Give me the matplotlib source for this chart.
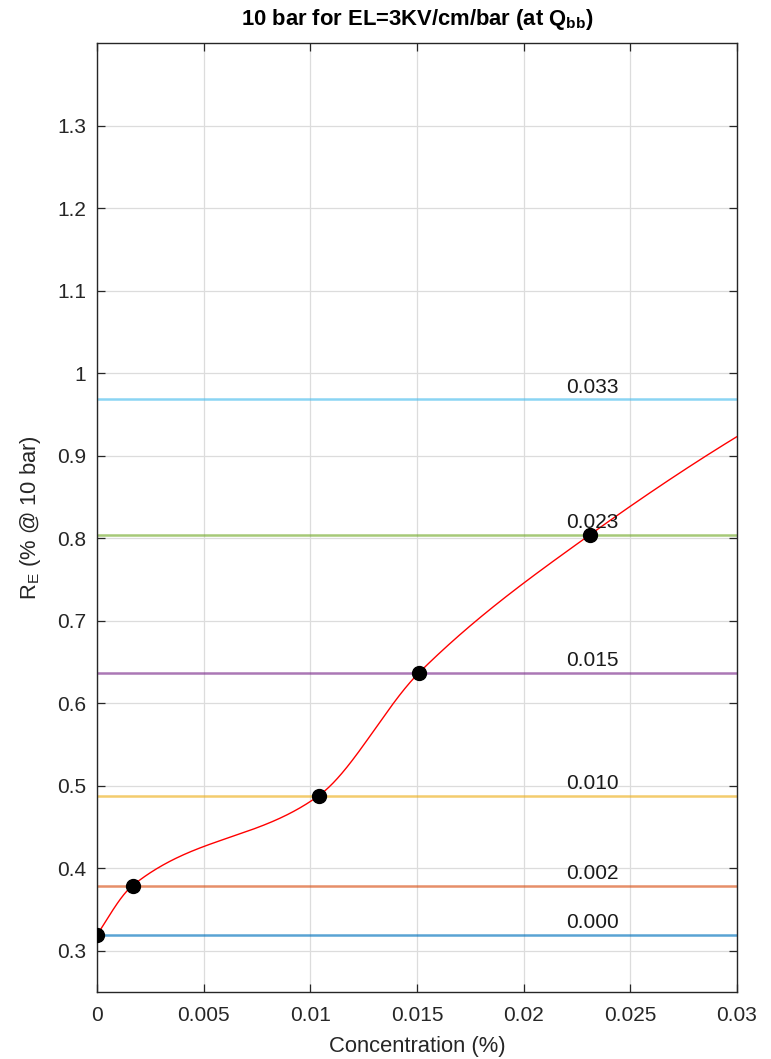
import numpy as np
import matplotlib
matplotlib.use("Agg")
import matplotlib.pyplot as plt

# Measured concentrations (%) and energy resolution R_E (% @ 10 bar)
concentration = [0.0, 0.00167, 0.0104, 0.0151, 0.0231, 0.0330]
resolution = [0.319, 0.379, 0.488, 0.637, 0.804, 0.968]
level_labels = ["0.000", "0.002", "0.010", "0.015", "0.023", "0.033"]
level_colors = ["#0072BD", "#D95319", "#EDB120", "#7E2F8E", "#77AC30", "#4DBEEE"]

x_ticks = [0, 0.005, 0.01, 0.015, 0.02, 0.025, 0.03]
x_tick_labels = ["0", "0.005", "0.01", "0.015", "0.02", "0.025", "0.03"]
y_ticks = [0.3, 0.4, 0.5, 0.6, 0.7, 0.8, 0.9, 1.0, 1.1, 1.2, 1.3]
y_tick_labels = ["0.3", "0.4", "0.5", "0.6", "0.7", "0.8", "0.9", "1", "1.1", "1.2", "1.3"]


def pchip(x, y, xq):
    """Shape-preserving piecewise cubic Hermite interpolation."""
    x = np.asarray(x, float)
    y = np.asarray(y, float)
    xq = np.asarray(xq, float)
    h = np.diff(x)
    d = np.diff(y) / h
    n = len(x)
    m = np.zeros(n)
    for k in range(1, n - 1):
        if d[k - 1] * d[k] > 0:
            w1 = 2 * h[k] + h[k - 1]
            w2 = h[k] + 2 * h[k - 1]
            m[k] = (w1 + w2) / (w1 / d[k - 1] + w2 / d[k])
    m[0] = ((2 * h[0] + h[1]) * d[0] - h[0] * d[1]) / (h[0] + h[1])
    m[-1] = ((2 * h[-1] + h[-2]) * d[-1] - h[-1] * d[-2]) / (h[-1] + h[-2])
    idx = np.clip(np.searchsorted(x, xq) - 1, 0, n - 2)
    hi = h[idx]
    t = (xq - x[idx]) / hi
    h00 = 2 * t**3 - 3 * t**2 + 1
    h10 = t**3 - 2 * t**2 + t
    h01 = -2 * t**3 + 3 * t**2
    h11 = t**3 - t**2
    return h00 * y[idx] + h10 * hi * m[idx] + h01 * y[idx + 1] + h11 * hi * m[idx + 1]


plt.rcParams["font.family"] = ["Liberation Sans", "DejaVu Sans"]
plt.rcParams["mathtext.default"] = "regular"

fig = plt.figure(figsize=(7.71, 10.59), dpi=100)
ax = fig.add_axes([97 / 771, (1059 - 992) / 1059, 640 / 771, 949 / 1059])

text_color = "#262626"
ax.grid(True, color="#dcdcdc", linewidth=0.9)
ax.set_axisbelow(True)

for yv, lab, col in zip(resolution, level_labels, level_colors):
    ax.axhline(yv, color=col, alpha=0.65, linewidth=1.8, zorder=2)
    ax.text(0.022, yv + 0.008, lab, fontsize=15, color="#1a1a1a",
            ha="left", va="baseline", zorder=5)

xs = np.linspace(0, 0.03, 600)
ax.plot(xs, pchip(concentration, resolution, xs),
        color="red", linewidth=1.0, zorder=3)
ax.plot(concentration, resolution, "o", color="black", markersize=10,
        zorder=4, clip_on=True)

ax.set_xlim(0, 0.03)
ax.set_ylim(0.25, 1.4)
ax.set_xticks(x_ticks)
ax.set_xticklabels(x_tick_labels)
ax.set_yticks(y_ticks)
ax.set_yticklabels(y_tick_labels)
ax.tick_params(direction="in", length=6, width=0.9, colors=text_color,
               labelsize=15, top=True, right=True, pad=10)
ax.tick_params(axis="y", pad=8)
for sp in ax.spines.values():
    sp.set_color(text_color)
    sp.set_linewidth(1.0)

ax.set_xlabel("Concentration (%)", fontsize=15.8, color=text_color, labelpad=8)
ax.set_ylabel("R$_E$ (% @ 10 bar)", fontsize=15.8, color=text_color, labelpad=10)
ax.set_title("10 bar for EL=3KV/cm/bar (at Q$_{bb}$)", fontsize=15.8,
             fontweight="bold", color="black", pad=13)

fig.savefig("out.png", dpi=100)
